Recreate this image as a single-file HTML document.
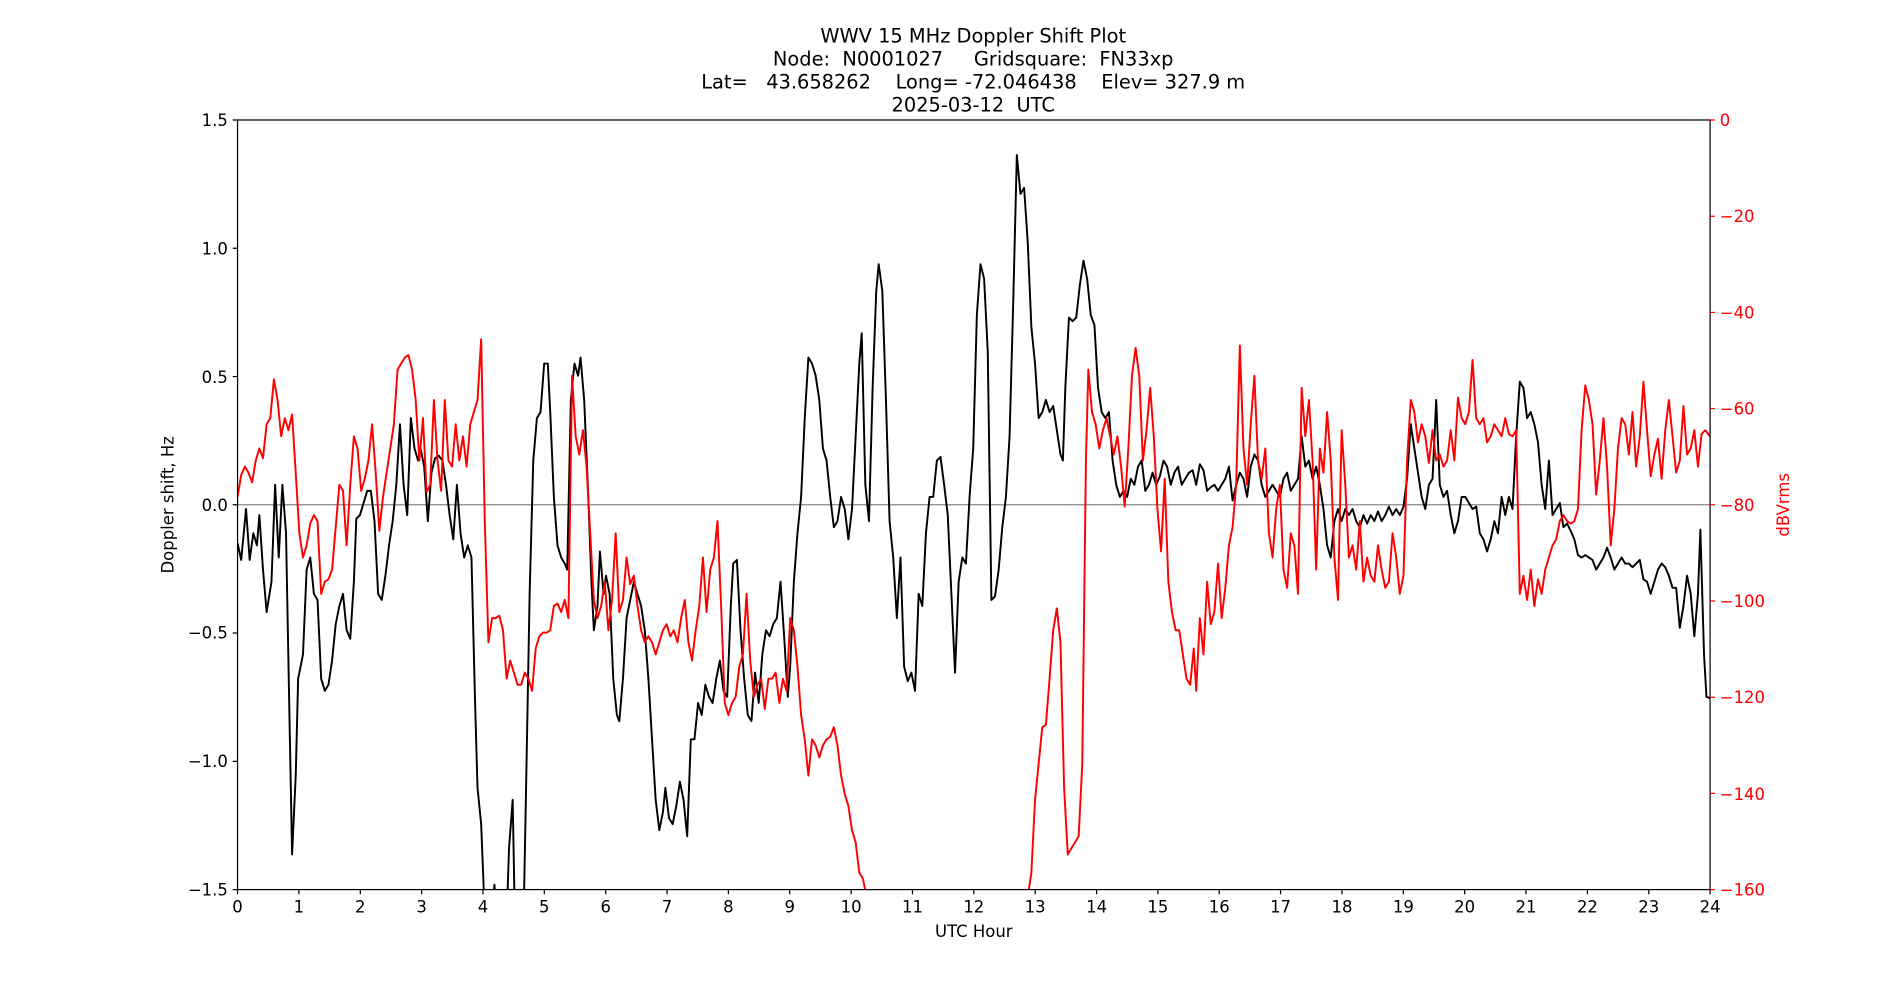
<!DOCTYPE html>
<html><head><meta charset="utf-8"><style>html,body{margin:0;padding:0;background:#fff}svg{display:block}text{white-space:pre}</style></head><body>
<svg width="1900" height="1000" viewBox="0 0 1567.7 825.1" preserveAspectRatio="none" xmlns="http://www.w3.org/2000/svg" font-family="'DejaVu Sans','Liberation Sans',sans-serif">
<defs><clipPath id="c"><rect x="196" y="99" width="1215" height="635"/></clipPath></defs>
<rect width="1568" height="826" fill="#fff"/>
<g font-size="16" text-anchor="middle" fill="#000">
<text x="803" y="35">WWV 15 MHz Doppler Shift Plot</text>
<text x="803" y="54" xml:space="preserve">Node:  N0001027     Gridsquare:  FN33xp</text>
<text x="803" y="73" xml:space="preserve">Lat=   43.658262    Long= -72.046438    Elev= 327.9 m</text>
<text x="803" y="92" xml:space="preserve">2025-03-12  UTC</text>
</g>
<line x1="196" y1="416.5" x2="1411" y2="416.5" stroke="#888" stroke-width="1"/>
<g clip-path="url(#c)" fill="none" stroke-width="1.6" stroke-linejoin="round">
<polyline stroke="#000" points="196,448 199,462 203,420 206,462 209,440 212,450 214,425 217,470 220,505 224,480 227,400 230,460 233,400 236,440 239,600 241,705 244,640 246,560 250,540 253,470 256,460 259,490 262,495 265,560 268,570 271,565 274,545 277,515 280,500 283,490 286,520 289,527 292,480 294,428 297,425 300,415 303,405 306,405 309,430 312,490 315,495 318,475 321,450 324,430 327,400 330,350 333,400 336,425 339,345 342,370 345,380 347,370 350,385 353,430 356,390 359,378 362,376 365,380 368,400 371,425 374,445 377,400 380,440 383,460 386,450 389,460 392,580 394,650 397,680 399,730 402,820 405,760 408,730 411,810 414,800 417,790 420,700 423,660 426,820 429,800 432,760 435,600 437,490 440,380 443,345 446,340 449,300 452,300 454,340 457,410 460,450 463,460 466,465 468,470 471,330 474,300 477,310 479,295 482,330 485,400 488,480 490,520 493,500 495,455 498,490 500,475 503,490 506,560 509,590 511,595 514,560 517,510 520,495 523,480 526,490 529,500 532,520 535,560 538,610 541,660 544,685 547,670 549,650 552,675 555,680 558,665 561,645 564,660 567,690 570,610 573,610 576,580 579,590 582,565 585,575 588,580 591,560 594,545 597,570 600,575 603,500 605,465 608,462 611,520 614,560 617,590 620,595 623,555 626,580 629,540 632,520 635,525 638,515 641,510 644,480 647,525 650,575 652,550 655,480 658,440 661,410 664,345 667,295 670,300 673,310 676,330 679,370 682,380 685,410 688,435 691,430 694,410 697,420 700,445 703,420 706,360 709,300 711,275 714,400 717,430 720,320 723,240 725,218 728,240 731,330 734,430 737,460 740,510 743,460 746,550 749,562 752,555 755,570 758,490 761,500 764,440 767,410 770,410 773,380 776,377 779,400 782,425 785,490 788,555 791,480 794,460 797,465 800,410 803,370 806,260 809,218 812,230 815,290 818,495 821,492 824,470 827,435 830,410 833,360 836,250 839,128 842,160 845,155 848,200 851,270 854,300 857,345 860,340 863,330 866,340 869,335 872,355 875,375 877,380 879,320 882,262 885,265 888,262 891,235 894,215 897,230 900,260 903,268 906,320 909,340 912,345 915,340 918,380 921,400 924,410 927,405 930,410 933,395 936,400 939,385 942,380 945,405 948,400 951,390 954,400 957,393 960,380 963,385 966,400 969,390 972,385 975,400 978,395 981,390 984,388 987,400 990,383 993,388 996,405 999,402 1002,400 1005,405 1008,400 1011,395 1014,385 1017,413 1020,400 1023,390 1026,395 1029,410 1032,385 1035,375 1038,380 1041,400 1044,410 1047,405 1050,400 1053,405 1056,410 1059,395 1062,390 1065,405 1068,400 1071,395 1074,360 1077,385 1080,380 1083,395 1086,385 1089,400 1092,420 1095,450 1098,460 1101,430 1104,420 1107,430 1110,420 1113,425 1116,420 1119,430 1122,435 1125,425 1128,432 1131,425 1134,430 1137,422 1140,430 1143,425 1146,418 1149,425 1152,420 1155,425 1158,418 1161,395 1164,350 1167,370 1170,390 1173,410 1176,420 1179,400 1182,395 1185,330 1188,400 1191,410 1194,405 1197,425 1200,440 1203,430 1206,410 1209,410 1212,415 1215,420 1218,418 1221,440 1224,445 1227,455 1230,445 1233,430 1236,440 1239,410 1242,425 1245,410 1248,420 1251,360 1254,315 1257,320 1260,345 1263,340 1266,350 1269,365 1272,400 1275,420 1278,380 1281,425 1284,420 1287,415 1290,435 1293,432 1296,438 1299,445 1302,458 1305,460 1308,458 1311,460 1314,462 1317,470 1320,465 1323,460 1326,452 1329,460 1332,470 1335,465 1338,460 1341,465 1344,465 1347,468 1350,465 1353,462 1356,478 1359,480 1362,490 1365,480 1368,470 1371,465 1374,468 1377,475 1380,485 1383,485 1386,518 1389,500 1392,475 1395,490 1398,525 1401,490 1403,437 1406,540 1408,575 1411,576"/>
<polyline stroke="#f00" points="196,410 199,392 202,385 205,390 208,398 211,380 214,370 217,378 220,350 223,345 226,313 229,330 232,360 235,345 238,355 241,342 244,390 247,440 250,460 253,450 256,432 259,425 262,430 265,490 268,480 271,478 274,470 277,435 280,400 283,405 286,450 289,400 292,360 295,370 298,405 301,395 304,380 307,350 310,390 313,438 316,410 319,390 322,370 325,350 328,305 331,300 334,295 337,293 340,305 343,330 346,380 349,345 352,406 355,400 358,330 361,380 364,405 367,330 370,380 373,385 376,350 379,380 382,360 385,385 388,350 391,340 394,330 397,280 400,430 403,530 406,510 409,510 412,508 415,520 418,560 421,545 424,555 427,565 430,565 433,555 436,560 439,570 442,535 445,525 448,522 451,522 454,520 457,500 460,498 463,505 466,495 469,510 472,310 475,360 478,375 481,355 484,385 487,440 490,495 493,510 496,500 499,480 502,520 505,495 508,440 511,505 514,495 517,460 520,482 523,475 526,500 529,520 532,530 535,525 538,530 541,540 544,530 547,520 550,515 553,525 556,520 559,530 562,510 565,495 568,530 571,545 574,520 577,500 580,460 583,505 586,470 589,460 592,430 595,500 598,580 601,590 604,580 607,575 610,550 613,540 616,490 619,545 622,575 625,565 628,560 631,585 634,560 637,560 640,555 643,580 646,560 649,570 652,510 655,520 658,550 661,590 664,610 667,640 670,610 673,615 676,625 679,615 682,610 685,608 688,600 691,615 694,640 697,655 700,665 703,685 706,695 709,720 712,725 715,740 720,760 840,760 848,740 851,720 854,660 857,630 860,600 863,598 866,560 869,520 872,502 875,530 878,650 881,705 884,700 887,695 890,690 893,630 896,380 898,305 901,340 904,350 907,370 910,355 913,345 916,360 919,375 922,360 925,385 928,418 931,370 934,310 937,287 940,310 943,380 946,355 949,320 952,360 955,420 958,455 961,395 964,480 967,505 970,520 973,520 976,540 979,560 982,565 985,535 987,570 990,510 993,540 996,480 999,515 1002,505 1005,465 1008,510 1011,485 1014,450 1017,435 1020,400 1023,285 1026,370 1029,400 1032,350 1035,310 1038,380 1041,395 1044,370 1047,440 1050,460 1053,420 1056,400 1059,470 1062,485 1065,440 1068,450 1071,490 1074,320 1077,360 1080,330 1083,380 1086,470 1089,370 1092,390 1095,340 1098,380 1101,460 1104,495 1107,355 1110,400 1113,460 1116,450 1119,470 1122,430 1125,480 1128,460 1131,475 1134,480 1137,450 1140,470 1143,485 1146,480 1149,440 1152,460 1155,490 1158,475 1161,380 1164,330 1167,340 1170,365 1173,350 1176,360 1179,382 1182,355 1185,380 1188,375 1191,385 1194,380 1197,355 1200,380 1203,328 1206,345 1209,350 1212,340 1215,297 1218,345 1221,350 1224,345 1227,365 1230,360 1233,350 1236,355 1239,360 1242,345 1245,358 1248,360 1251,355 1254,490 1257,475 1260,495 1263,470 1266,500 1269,478 1272,490 1275,470 1278,460 1281,450 1284,445 1287,430 1290,425 1293,430 1296,432 1299,430 1302,420 1305,355 1308,318 1311,330 1314,350 1317,408 1320,380 1323,345 1326,385 1329,450 1332,420 1335,370 1338,345 1341,350 1344,375 1347,340 1350,385 1353,360 1356,315 1359,355 1362,393 1365,375 1368,362 1371,395 1374,355 1377,330 1380,360 1383,390 1386,380 1389,335 1392,375 1395,370 1398,355 1401,385 1404,358 1407,355 1411,360"/>
</g>
<rect x="196" y="99" width="1215" height="635" fill="none" stroke="#000" stroke-width="1"/>
<g stroke="#000" stroke-width="1">
<path d="M192,99h4M192,204.8h4M192,310.7h4M192,416.5h4M192,522.3h4M192,628.2h4M192,734h4"/>
<path d="M196,734v4M246.6,734v4M297.3,734v4M347.9,734v4M398.5,734v4M449.1,734v4M499.8,734v4M550.4,734v4M601,734v4M651.6,734v4M702.3,734v4M752.9,734v4M803.5,734v4M854.1,734v4M904.8,734v4M955.4,734v4M1006,734v4M1056.6,734v4M1107.3,734v4M1157.9,734v4M1208.5,734v4M1259.1,734v4M1309.8,734v4M1360.4,734v4M1411,734v4"/>
</g>
<path stroke="#f00" stroke-width="1" d="M1411,99h4M1411,178.4h4M1411,257.8h4M1411,337.1h4M1411,416.5h4M1411,495.9h4M1411,575.3h4M1411,654.6h4M1411,734h4"/>
<g font-size="13.6" text-anchor="end" fill="#000">
<text x="188" y="104">1.5</text><text x="188" y="210">1.0</text><text x="188" y="316">0.5</text><text x="188" y="421.5">0.0</text><text x="188" y="527">−0.5</text><text x="188" y="633">−1.0</text><text x="188" y="739">−1.5</text>
</g>
<g font-size="13.6" text-anchor="start" fill="#f00">
<text x="1419" y="104">0</text><text x="1419" y="183">−20</text><text x="1419" y="263">−40</text><text x="1419" y="342">−60</text><text x="1419" y="421.5">−80</text><text x="1419" y="501">−100</text><text x="1419" y="580">−120</text><text x="1419" y="660">−140</text><text x="1419" y="739">−160</text>
</g>
<g font-size="13.6" text-anchor="middle" fill="#000">
<text x="196" y="753">0</text><text x="246.6" y="753">1</text><text x="297.3" y="753">2</text><text x="347.9" y="753">3</text><text x="398.5" y="753">4</text><text x="449.1" y="753">5</text><text x="499.8" y="753">6</text><text x="550.4" y="753">7</text><text x="601" y="753">8</text><text x="651.6" y="753">9</text><text x="702.3" y="753">10</text><text x="752.9" y="753">11</text><text x="803.5" y="753">12</text><text x="854.1" y="753">13</text><text x="904.8" y="753">14</text><text x="955.4" y="753">15</text><text x="1006" y="753">16</text><text x="1056.6" y="753">17</text><text x="1107.3" y="753">18</text><text x="1157.9" y="753">19</text><text x="1208.5" y="753">20</text><text x="1259.1" y="753">21</text><text x="1309.8" y="753">22</text><text x="1360.4" y="753">23</text><text x="1411" y="753">24</text>
<text x="803.5" y="773">UTC Hour</text>
<text transform="translate(143,416.5) rotate(-90)">Doppler shift, Hz</text>
</g>
<text transform="translate(1476,416.5) rotate(-90)" font-size="13.6" text-anchor="middle" fill="#f00">dBVrms</text>
</svg>
</body></html>
